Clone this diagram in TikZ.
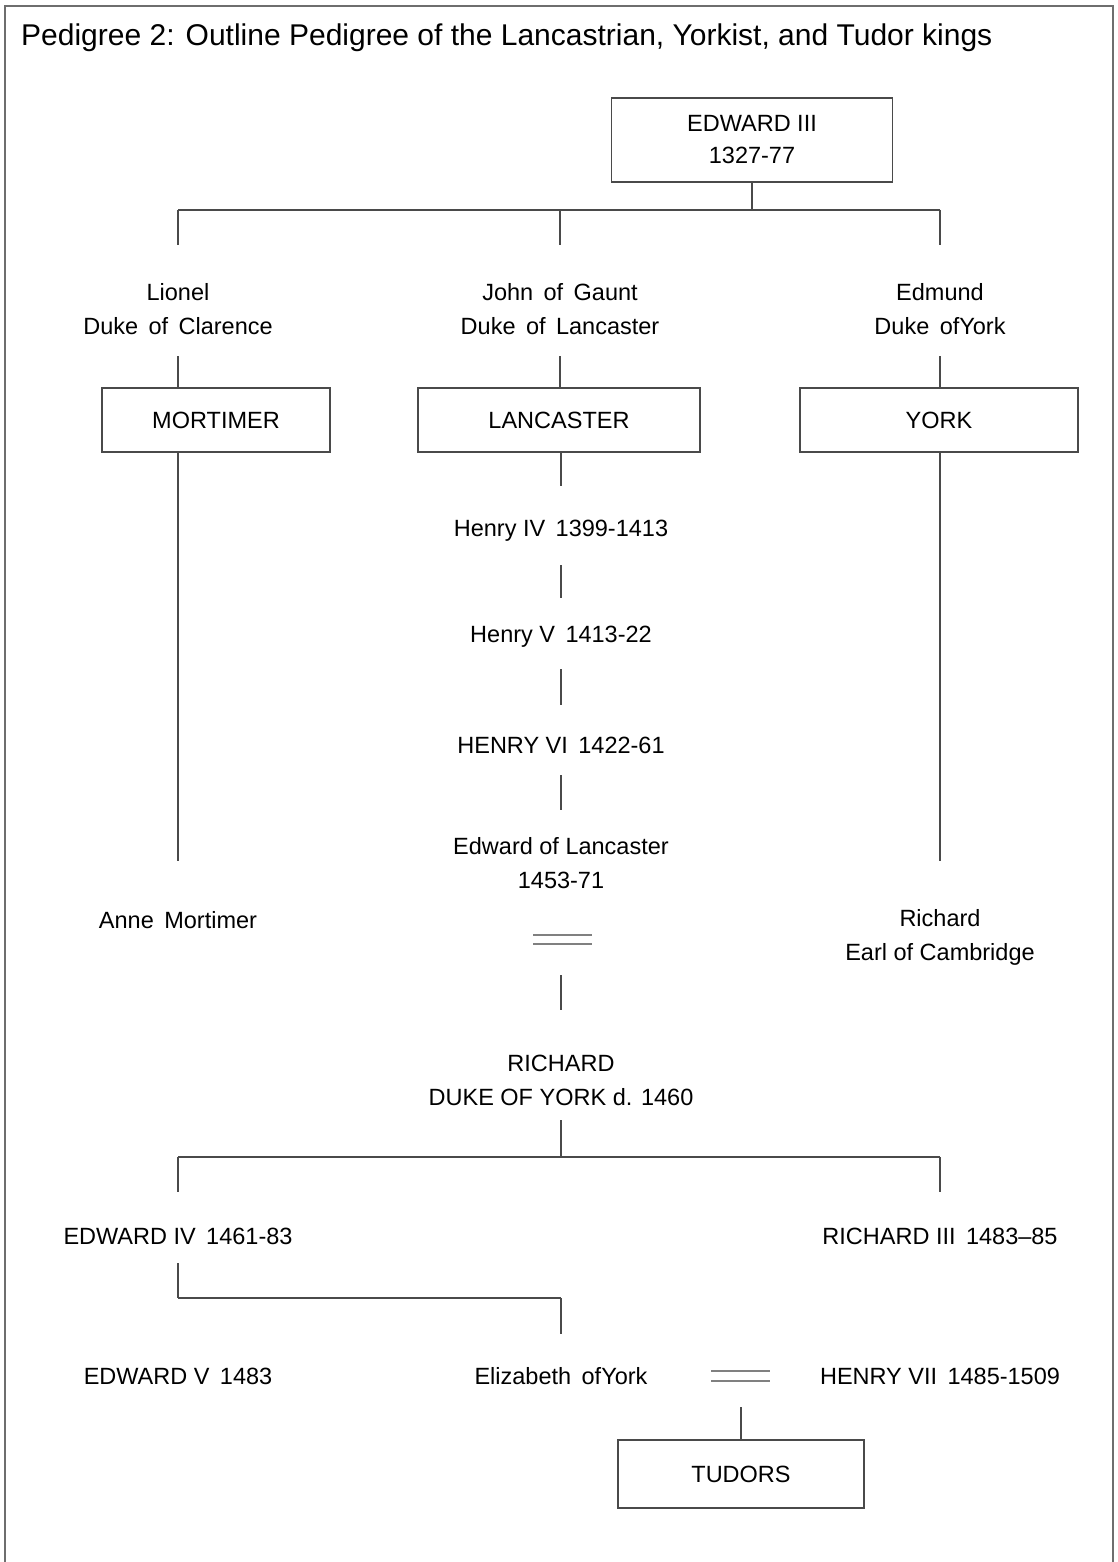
\documentclass[tikz,border=0pt]{standalone}
\usepackage{fontspec}
\setmainfont{Liberation Sans}
\definecolor{linegray}{HTML}{4A4A4A}
\definecolor{framegray}{HTML}{6E6E6E}
\definecolor{eqgray}{HTML}{808080}
\begin{document}
\begin{tikzpicture}[x=1pt,y=-1pt,
  lbl/.style={font=\fontsize{23.5}{34}\selectfont, align=center, inner sep=0pt, text=black},
  famlybox/.style={draw=linegray, line width=1.6pt, font=\fontsize{23.5}{32}\selectfont, align=center, inner sep=0pt},
  ln/.style={draw=linegray, line width=1.4pt},
  eq/.style={draw=eqgray, line width=2.4pt}]
\useasboundingbox (0,0) rectangle (1118,1562);
% frame open at the bottom
\draw[draw=framegray, line width=2pt] (5,1562) -- (5,6) -- (1113,6) -- (1113,1562);
% title
\node[font=\fontsize{30}{36}\selectfont, anchor=west, inner sep=0pt] (title) at (21,38) {Pedigree 2: Outline Pedigree of the Lancastrian, Yorkist, and Tudor kings};
% boxes
\node[famlybox, minimum width=281pt, minimum height=84pt] (e3) at (752,140) {EDWARD III\\1327-77};
\node[famlybox, minimum width=228pt, minimum height=64pt] (mort) at (216,420) {MORTIMER};
\node[famlybox, minimum width=282pt, minimum height=64pt] (lanc) at (559,420) {LANCASTER};
\node[famlybox, minimum width=278pt, minimum height=64pt] (york) at (939,420) {YORK};
\node[famlybox, minimum width=246pt, minimum height=68pt] (tudors) at (741,1474) {TUDORS};
% labels
\node[lbl] (lionel) at (178,309) {Lionel\\Duke\, of\, Clarence};
\node[lbl] (gaunt) at (560,309) {John\, of\, Gaunt\\Duke\, of\, Lancaster};
\node[lbl] (edmund) at (940,309) {Edmund\\Duke\, ofYork};
\node[lbl] (henry4) at (561,531) {Henry IV\, 1399-1413};
\node[lbl] (henry5) at (561,637) {Henry V\, 1413-22};
\node[lbl] (henry6) at (561,745) {HENRY VI\, 1422-61};
\node[lbl] (edlanc) at (561,863) {Edward of Lancaster\\1453-71};
\node[lbl] (anne) at (178,920) {Anne\, Mortimer};
\node[lbl] (richcam) at (940,937) {Richard\\Earl of Cambridge};
\node[lbl] (richyork) at (561,1080) {RICHARD\\DUKE OF YORK d. 1460};
\node[lbl] (ed4) at (178,1236) {EDWARD IV\, 1461-83};
\node[lbl] (rich3) at (940,1236) {RICHARD III\, 1483--85};
\node[lbl] (ed5) at (178,1376) {EDWARD V\, 1483};
\node[lbl] (eliz) at (561,1376) {Elizabeth\, ofYork};
\node[lbl] (hen7) at (940,1376) {HENRY VII\, 1485-1509};
% Edward III's sons
\coordinate (bar1) at (752,210);
\draw[ln] (e3.south) -- (bar1);
\draw[ln] (bar1 -| lionel) -- (bar1 -| edmund);
\draw[ln] (bar1 -| lionel) -- ++(0,35);
\draw[ln] (bar1 -| gaunt) -- ++(0,35);
\draw[ln] (bar1 -| edmund) -- ++(0,35);
% sons to houses
\draw[ln] ([yshift=31pt]mort.north -| lionel) -- (mort.north -| lionel);
\draw[ln] ([yshift=31pt]lanc.north -| gaunt) -- (lanc.north -| gaunt);
\draw[ln] ([yshift=31pt]york.north -| edmund) -- (york.north -| edmund);
% Mortimer and York lines
\draw[ln] (mort.south -| lionel) -- ++(0,408);
\draw[ln] (york.south -| edmund) -- ++(0,408);
% Lancaster line
\draw[ln] (lanc.south -| henry4) -- ++(0,33);
\draw[ln] (henry4) ++(0,34) -- ++(0,33);
\draw[ln] (henry5) ++(0,32) -- ++(0,36);
\draw[ln] (henry6) ++(0,30) -- ++(0,35);
% marriage marks
\draw[eq] (533,935) -- (592,935);
\draw[eq] (533,944) -- (592,944);
\draw[ln] (richyork) ++(0,-105) -- ++(0,35);
% Richard Duke of York's sons
\coordinate (bar2) at (561,1157);
\draw[ln] (richyork) ++(0,40) -- (bar2);
\draw[ln] (bar2 -| ed4) -- (bar2 -| rich3);
\draw[ln] (bar2 -| ed4) -- ++(0,35);
\draw[ln] (bar2 -| rich3) -- ++(0,35);
% Edward IV's children
\coordinate (bar3) at (178,1298);
\draw[ln] (ed4) ++(0,27) -- (bar3);
\draw[ln] (bar3) -- (bar3 -| eliz);
\draw[ln] (bar3 -| eliz) -- ++(0,36);
% Elizabeth = Henry VII
\draw[eq] (711,1371) -- (770,1371);
\draw[eq] (711,1381) -- (770,1381);
\draw[ln] (tudors.north) ++(0,-32) -- (tudors.north);
\end{tikzpicture}
\end{document}
